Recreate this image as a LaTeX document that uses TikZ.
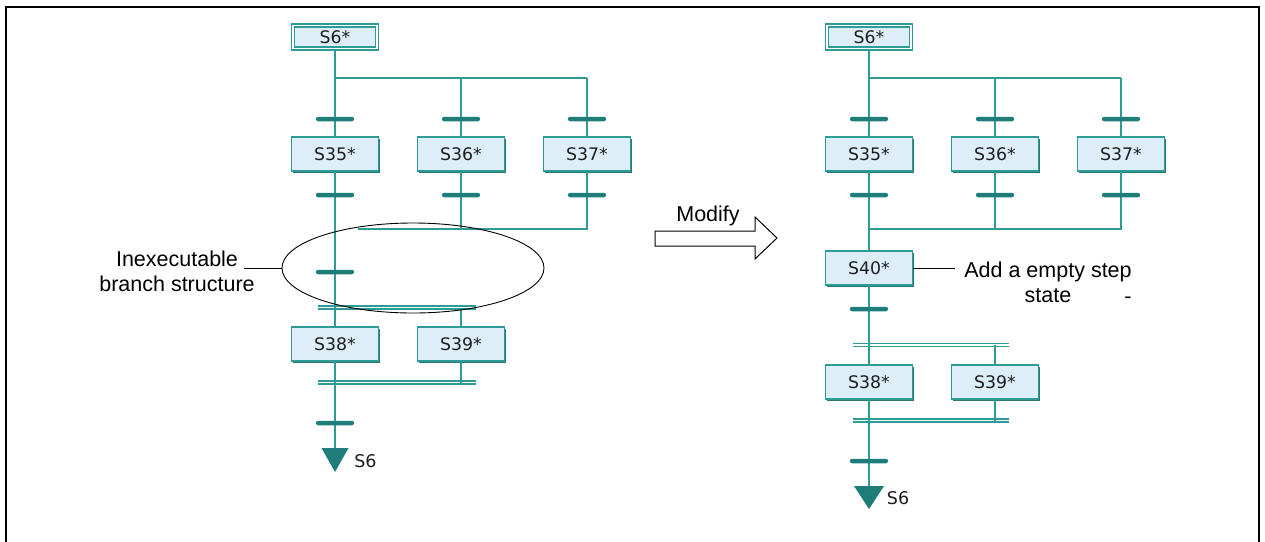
\documentclass[tikz,border=0pt]{standalone}
\usepackage{fontspec}
\setmainfont{Liberation Sans}
\newfontfamily\stepfont{DejaVu Sans}
\usetikzlibrary{shapes.geometric,shadows}
\definecolor{teal1}{RGB}{45,155,150}
\definecolor{tealbar}{RGB}{30,125,120}
\definecolor{tealdk}{RGB}{25,105,100}
\definecolor{boxblue}{RGB}{222,238,248}
\definecolor{txt}{RGB}{30,30,30}
\begin{document}
\begin{tikzpicture}[x=1pt,y=-1pt,
  ln/.style={draw=teal1,line width=1.5pt},
  stepbox/.style={draw=teal1,fill=boxblue,line width=1.2pt,minimum width=87pt,minimum height=34pt,inner sep=0pt,
    font=\stepfont\fontsize{17.3}{19}\selectfont,text=txt,
    drop shadow={shadow xshift=1.5pt,shadow yshift=-1.5pt,fill=tealdk,opacity=0.9}},
  initbox/.style={draw=teal1,fill=boxblue,line width=1.3pt,double=white,double distance=1.6pt,
    minimum width=84pt,minimum height=23pt,inner sep=0pt,
    font=\stepfont\fontsize{17.3}{19}\selectfont,text=txt,
    drop shadow={shadow xshift=1.5pt,shadow yshift=-1.5pt,fill=tealdk,opacity=0.9}},
  trans/.style={fill=tealbar,minimum width=38pt,minimum height=4.5pt,inner sep=0pt,rounded corners=2pt},
  dbl/.style={draw=teal1,double=white,double distance=1.8pt,line width=1.2pt},
  lbl/.style={font=\fontsize{21.5}{25}\selectfont,align=center,text=black,inner sep=0pt},
  endlbl/.style={font=\stepfont\fontsize{17.5}{19}\selectfont,text=txt,inner sep=0pt},
  note/.style={draw=black,line width=0.9pt},
  tri/.style={fill=tealbar}
]
\useasboundingbox (0,0) rectangle (1265,541);
\fill[white] (0,0) rectangle (1265,541);
% frame
\draw[line width=2.2pt] (6,545) -- (6,7) -- (1259,7) -- (1259,545);

% ================= LEFT =================
\node[initbox] (s6L) at (335,37) {S6*};
\node[stepbox] (s35L) at (335,154) {S35*};
\node[stepbox] (s36L) at (461,154) {S36*};
\node[stepbox] (s37L) at (587,154) {S37*};
\node[stepbox] (s38L) at (335,344) {S38*};
\node[stepbox] (s39L) at (461,344) {S39*};
\coordinate (bL1) at (335,78);
\coordinate (bL2) at (461,78);
\coordinate (bL3) at (587,78);
\coordinate (jL0) at (358,229);
\coordinate (jL2) at (461,229);
\coordinate (jL3) at (587,229);
\coordinate (dLa) at (318,307.5);
\coordinate (dLb) at (476,307.5);
\coordinate (dL2) at (461,307.5);
\coordinate (eLa) at (318,382.5);
\coordinate (eLb) at (476,382.5);
\coordinate (eL2) at (461,382.5);
\coordinate (endL) at (335,448);

\draw[dbl] (dLa) -- (dLb);
\draw[dbl] (eLa) -- (eLb);
\draw[ln] (s6L) -- (s35L);
\draw[ln] (bL1) -- (bL3);
\draw[ln] (bL2) -- (s36L);
\draw[ln] (bL3) -- (s37L);
\draw[ln] (s36L) -- (jL2);
\draw[ln] (s37L) -- (jL3) -- (jL0);
\draw[ln] (s35L) -- (s38L);
\draw[ln] (dL2) -- (s39L);
\draw[ln] (s39L) -- (eL2);
\draw[ln] (s38L) -- (endL);

\node[trans] (tL1) at (335,119) {};
\node[trans] (tL2) at (461,119) {};
\node[trans] (tL3) at (587,119) {};
\node[trans] (tL4) at (335,195) {};
\node[trans] (tL5) at (461,195) {};
\node[trans] (tL6) at (587,195) {};
\node[trans] (tL7) at (335,272) {};
\node[trans] (tL8) at (335,423) {};
\fill[tri] ([xshift=-13.5pt]endL) -- ([xshift=13.5pt]endL) -- ([yshift=-24pt]endL) -- cycle;
\node[endlbl] (eS6L) at (365.5,461) {S6};

\node[note,ellipse,minimum width=262pt,minimum height=90pt,inner sep=0pt] (ell) at (413,268) {};
\node[lbl] (lblL) at (177,271.5) {Inexecutable\\branch structure};
\coordinate (lnL) at (244,268);
\draw[note] (lnL) -- (ell.west);

% ================= ARROW =================
\draw[line width=1pt] (655,231) -- (755,231) -- (755,217) -- (777,238) -- (755,259) -- (755,246) -- (655,246) -- cycle;
\node[lbl,anchor=base] (modify) at (708,221) {Modify};

% ================= RIGHT =================
\node[initbox] (s6R) at (869,37) {S6*};
\node[stepbox] (s35R) at (869,154) {S35*};
\node[stepbox] (s36R) at (995,154) {S36*};
\node[stepbox] (s37R) at (1121,154) {S37*};
\node[stepbox] (s40R) at (869,268) {S40*};
\node[stepbox] (s38R) at (869,382) {S38*};
\node[stepbox] (s39R) at (995,382) {S39*};
\coordinate (bR1) at (869,78);
\coordinate (bR2) at (995,78);
\coordinate (bR3) at (1121,78);
\coordinate (jR1) at (869,229);
\coordinate (jR2) at (995,229);
\coordinate (jR3) at (1121,229);
\coordinate (dRa) at (853,345);
\coordinate (dRb) at (1009,345);
\coordinate (dR2) at (995,345);
\coordinate (eRa) at (853,420.5);
\coordinate (eRb) at (1009,420.5);
\coordinate (eR2) at (995,420.5);
\coordinate (endR) at (869,486);

\draw[dbl] (dRa) -- (dRb);
\draw[dbl] (eRa) -- (eRb);
\draw[ln] (s6R) -- (s35R);
\draw[ln] (bR1) -- (bR3);
\draw[ln] (bR2) -- (s36R);
\draw[ln] (bR3) -- (s37R);
\draw[ln] (s36R) -- (jR2);
\draw[ln] (s37R) -- (jR3) -- (jR1);
\draw[ln] (s35R) -- (s40R);
\draw[ln] (s40R) -- (s38R);
\draw[ln] (dR2) -- (s39R);
\draw[ln] (s39R) -- (eR2);
\draw[ln] (s38R) -- (endR);

\node[trans] (tR1) at (869,119) {};
\node[trans] (tR2) at (995,119) {};
\node[trans] (tR3) at (1121,119) {};
\node[trans] (tR4) at (869,195) {};
\node[trans] (tR5) at (995,195) {};
\node[trans] (tR6) at (1121,195) {};
\node[trans] (tR7) at (869,309) {};
\node[trans] (tR8) at (869,461) {};
\fill[tri] ([xshift=-15pt]endR) -- ([xshift=15pt]endR) -- ([yshift=-23pt]endR) -- cycle;
\node[endlbl] (eS6R) at (898,498) {S6};

\node[lbl] (lblR) at (1048,282.7) {Add a empty step\\state};
\draw[note] (s40R.east) -- ([xshift=-9pt]s40R.east -| lblR.west);
\node[lbl] (dashR) at (1128,300) {-};
\end{tikzpicture}
\end{document}
